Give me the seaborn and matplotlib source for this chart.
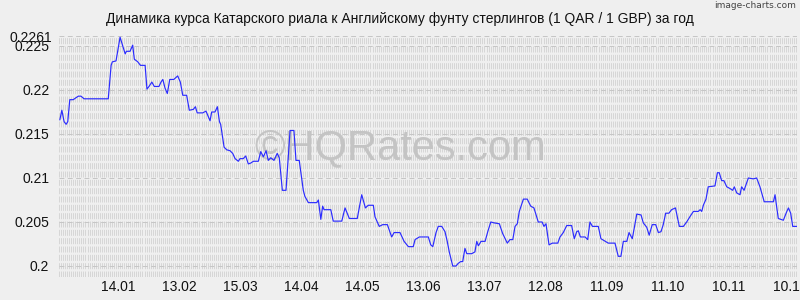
import numpy as np
import pandas as pd
import matplotlib
matplotlib.use("Agg")
import matplotlib.pyplot as plt
import matplotlib.transforms as mtransforms
import seaborn as sns

title = "Динамика курса Катарского риала к Английскому фунту стерлингов (1 QAR / 1 GBP) за год"
watermark = "©HQRates.com"
credit = "image-charts.com"

# day offsets counted from 15.12.2013
days = [1.4, 2.4, 3.5, 4.5, 5.3, 6.3, 8.0, 9.2, 10.5, 11.8, 13.3, 25.2, 26.6, 27.2, 29.0,
        31.0, 33.5, 34.1, 35.9, 37.2, 38.0, 39.7, 41.0, 43.3, 44.2, 45.2, 46.6, 47.8, 50.1,
        51.1, 52.0, 53.1, 54.2, 55.4, 57.4, 59.3, 60.6, 61.8, 63.7, 65.0, 67.0, 68.0, 68.9,
        71.6, 73.2, 75.2, 76.0, 77.6, 78.8, 79.8, 80.4, 82.1, 83.4, 85.0, 86.3, 87.5, 89.1,
        89.9, 91.5, 92.7, 94.0, 95.2, 96.5, 98.9, 100.1, 101.4, 102.7, 103.8, 105.0, 106.6,
        108.2, 109.2, 110.7, 112.5, 114.5, 116.4, 117.4, 119.0, 121.0, 121.8, 123.5, 127.6,
        128.4, 129.6, 130.5, 131.2, 134.5, 135.7, 139.9, 141.5, 143.6, 147.5, 149.7, 151.5,
        152.9, 155.4, 156.2, 158.3, 160.0, 162.3, 164.4, 165.6, 168.5, 170.5, 172.6, 175.0,
        175.9, 178.0, 182.4, 183.6, 184.6, 186.2, 187.3, 189.0, 190.6, 191.7, 192.7, 194.4,
        196.0, 197.1, 198.3, 199.3, 200.4, 201.3, 203.7, 205.3, 206.2, 207.0, 208.3, 210.3,
        211.6, 213.1, 214.7, 217.3, 218.9, 221.2, 222.5, 223.9, 225.0, 226.1, 227.1, 229.1,
        231.0, 232.7, 234.3, 236.4, 238.3, 239.2, 240.2, 241.7, 243.3, 246.0, 247.1, 248.7,
        250.4, 252.8, 254.1, 255.3, 256.1, 257.1, 259.4, 260.7, 261.8, 263.0, 265.9, 267.2,
        270.8, 274.1, 275.7, 277.0, 278.2, 279.9, 281.0, 282.6, 284.8, 286.9, 288.0, 289.7,
        290.9, 292.4, 294.1, 295.4, 296.7, 297.8, 299.0, 300.6, 301.9, 303.8, 305.7, 307.7,
        309.3, 310.9, 312.6, 315.0, 315.9, 316.7, 317.5, 318.8, 319.9, 323.2, 324.4, 325.3,
        326.5, 327.6, 329.0, 330.6, 331.9, 332.7, 333.9, 335.5, 336.3, 337.5, 339.6, 342.0,
        343.7, 345.3, 347.4, 351.9, 352.7, 354.3, 356.8, 358.5, 359.3, 360.4, 361.4, 363.4]

rates = [0.2166, 0.2177, 0.2164, 0.2161, 0.2164, 0.2189, 0.2189, 0.2191, 0.2193, 0.2193, 0.2190,
         0.2190, 0.2228, 0.2232, 0.2233, 0.2260, 0.2241, 0.2244, 0.2244, 0.2251, 0.2235, 0.2232,
         0.2228, 0.2228, 0.2201, 0.2204, 0.2209, 0.2204, 0.2204, 0.2209, 0.2212, 0.2202, 0.2196,
         0.2212, 0.2212, 0.2216, 0.2209, 0.2194, 0.2194, 0.2177, 0.2178, 0.2181, 0.2174, 0.2174,
         0.2176, 0.2165, 0.2175, 0.2175, 0.2181, 0.2164, 0.2161, 0.2135, 0.2132, 0.2131, 0.2128,
         0.2122, 0.2119, 0.2122, 0.2122, 0.2125, 0.2116, 0.2117, 0.2119, 0.2119, 0.2130, 0.2124,
         0.2131, 0.2120, 0.2123, 0.2120, 0.2128, 0.2123, 0.2086, 0.2086, 0.2154, 0.2154, 0.2120,
         0.2120, 0.2086, 0.2079, 0.2072, 0.2072, 0.2075, 0.2053, 0.2068, 0.2064, 0.2064, 0.2051,
         0.2051, 0.2066, 0.2054, 0.2054, 0.2081, 0.2066, 0.2069, 0.2069, 0.2056, 0.2045, 0.2047,
         0.2047, 0.2033, 0.2038, 0.2038, 0.2028, 0.2022, 0.2022, 0.2030, 0.2033, 0.2033, 0.2024,
         0.2022, 0.2038, 0.2045, 0.2045, 0.2039, 0.2028, 0.2016, 0.2000, 0.2000, 0.2003, 0.2005,
         0.2005, 0.2020, 0.2014, 0.2014, 0.2016, 0.2028, 0.2023, 0.2028, 0.2028, 0.2039, 0.2050,
         0.2049, 0.2048, 0.2037, 0.2026, 0.2030, 0.2030, 0.2045, 0.2048, 0.2062, 0.2076, 0.2076,
         0.2068, 0.2066, 0.2050, 0.2050, 0.2045, 0.2048, 0.2024, 0.2026, 0.2026, 0.2033, 0.2038,
         0.2046, 0.2046, 0.2031, 0.2039, 0.2040, 0.2033, 0.2033, 0.2030, 0.2050, 0.2045, 0.2045,
         0.2031, 0.2026, 0.2026, 0.2011, 0.2011, 0.2028, 0.2028, 0.2038, 0.2031, 0.2059, 0.2058,
         0.2049, 0.2044, 0.2035, 0.2047, 0.2047, 0.2038, 0.2039, 0.2047, 0.2060, 0.2060, 0.2064,
         0.2066, 0.2045, 0.2045, 0.2050, 0.2056, 0.2062, 0.2062, 0.2064, 0.2062, 0.2069, 0.2076,
         0.2090, 0.2091, 0.2106, 0.2106, 0.2097, 0.2097, 0.2090, 0.2088, 0.2086, 0.2090, 0.2083,
         0.2081, 0.2090, 0.2086, 0.2100, 0.2099, 0.2100, 0.2090, 0.2073, 0.2073, 0.2081, 0.2054,
         0.2052, 0.2062, 0.2066, 0.2060, 0.2045, 0.2045]

x_tick_days = [30, 60, 90, 120, 150, 180, 210, 240, 270, 300, 330, 360]
x_tick_labels = ["14.01", "13.02", "15.03", "14.04", "14.05", "13.06",
                 "13.07", "12.08", "11.09", "11.10", "10.11", "10.12"]
y_ticks = [0.2, 0.205, 0.21, 0.215, 0.22, 0.225, 0.2261]
y_tick_labels = ["0.2", "0.205", "0.21", "0.215", "0.22", "0.225", "0.2261"]

sns.set_theme(style="white")
plt.rcParams['font.family'] = ['Liberation Sans', 'DejaVu Sans']
plt.rcParams['lines.scale_dashes'] = False

bg = "#efefef"
fig = plt.figure(figsize=(8, 3), dpi=100, facecolor=bg)
ax = fig.add_axes([59 / 800, 1 - 277 / 300, (797 - 59) / 800, (277 - 36) / 300])
ax.set_facecolor(bg)

df = pd.DataFrame({"day": days, "rate": rates})
sns.lineplot(data=df, x="day", y="rate", ax=ax, color="#2b2bff", linewidth=0.85, zorder=4)

ax.set_xlim(1.0, 363.5)
ax.set_ylim(0.19875, 0.226136)

ax.set_xticks(x_tick_days)
ax.set_xticklabels(x_tick_labels)
ax.set_xticks(np.arange(1, 364), minor=True)
ax.set_yticks(y_ticks)
ax.set_yticklabels(y_tick_labels)

ax.grid(False)
ax.grid(which="both", axis="x", color="#d6d6d6", linewidth=0.72,
        linestyle=(0, (4.3, 1.7)), zorder=0)
ax.grid(which="major", axis="y", color="#c6c6c6", linewidth=0.72,
        linestyle=(0, (3.5, 2.5)), zorder=1)

ax.tick_params(axis="x", which="both", length=0, pad=2, labelsize=10, labelcolor="#111111")
ax.tick_params(axis="y", which="major", length=3, width=0.7, color="#c6c6c6", pad=4,
               labelsize=10, labelcolor="#111111")
ax.tick_params(axis="y", which="minor", length=0)
for s in ax.spines.values():
    s.set_visible(False)
ax.set_xlabel("")
ax.set_ylabel("")

# the top (max) label sits a little further right in the reference
top_lbl = ax.get_yticklabels()[-1]
top_lbl.set_transform(top_lbl.get_transform() +
                      mtransforms.ScaledTranslation(3 / 100, 0, fig.dpi_scale_trans))

fig.text(0.5, 1 - 19 / 300, title, ha="center", va="center", fontsize=10, color="#111111")
fig.text(796 / 800, 1 - 6 / 300, credit, ha="right", va="center", fontsize=6.5,
         color="#444444", family=["DejaVu Sans"])
ax.text(400 / 800, 1 - 148 / 300, watermark, transform=fig.transFigure, ha="center",
        va="center", fontsize=30, color="#c4c4c4", zorder=3)

fig.savefig("out.png", dpi=100, facecolor=bg)
